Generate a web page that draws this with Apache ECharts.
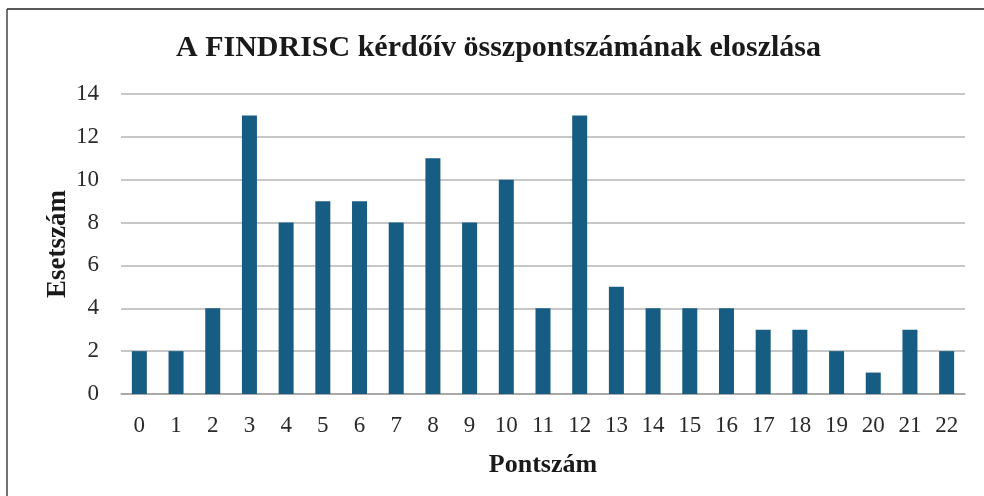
<!DOCTYPE html>
<html>
<head>
<meta charset="utf-8">
<script src="https://cdn.jsdelivr.net/npm/echarts@6/dist/echarts.min.js"></script>
<style>
  html, body { margin: 0; padding: 0; background: #fff; }
</style>
</head>
<body>
<div id="chart" style="width:984px;height:496px"></div>
<script>
// pontszámok és esetszámok
const categories = ['0','1','2','3','4','5','6','7','8','9','10','11','12','13','14','15','16','17','18','19','20','21','22'];
const counts = [2, 2, 4, 13, 8, 9, 9, 8, 11, 8, 10, 4, 13, 5, 4, 4, 4, 3, 3, 2, 1, 3, 2];
const yTicks = [0, 2, 4, 6, 8, 10, 12, 14];

const serif = '"Liberation Serif", "DejaVu Serif", serif';

let chart = echarts.init(document.getElementById('chart'));
chart.setOption({
  animation: false,
  backgroundColor: '#fff',
  title: {
    text: 'A FINDRISC kérdőív összpontszámának eloszlása',
    left: 176,
    top: 33,
    padding: 0,
    textStyle: { fontFamily: serif, fontSize: 30, fontWeight: 'bold', color: '#1a1a1a' }
  },
  // keret bal és felső éle
  graphic: [
    { type: 'line', shape: { x1: 7, y1: 9, x2: 984, y2: 9 }, style: { stroke: '#222', lineWidth: 1.5 } },
    { type: 'line', shape: { x1: 7, y1: 9, x2: 7, y2: 496 }, style: { stroke: '#444', lineWidth: 1.5 } }
  ],
  grid: { left: 121, right: 19, top: 94, bottom: 102 },
  xAxis: {
    type: 'category',
    data: categories,
    name: 'Pontszám',
    nameLocation: 'middle',
    nameGap: 58,
    nameMoveOverlap: false,
    nameTextStyle: { fontFamily: serif, fontSize: 26, fontWeight: 'bold', color: '#1a1a1a' },
    axisLine: { lineStyle: { color: '#a0a0a0', width: 1.5 } },
    axisTick: { show: false },
    axisLabel: { fontFamily: serif, fontSize: 23, color: '#2a2a2a', margin: 20 }
  },
  yAxis: {
    type: 'value',
    min: 0,
    max: 14,
    interval: 2,
    name: 'Esetszám',
    nameLocation: 'middle',
    nameGap: 49,
    nameMoveOverlap: false,
    nameTextStyle: { fontFamily: serif, fontSize: 27, fontWeight: 'bold', color: '#1a1a1a' },
    axisLine: { show: false },
    axisTick: { show: false },
    axisLabel: {
      fontFamily: serif, fontSize: 23, color: '#2a2a2a', margin: 22,
      formatter: v => yTicks.includes(v) ? String(v) : ''
    },
    splitLine: { lineStyle: { color: '#b4b4b4', width: 1.5 } }
  },
  series: [{
    type: 'bar',
    data: counts,
    barWidth: 15,
    itemStyle: { color: '#175c82' }
  }]
});
</script>
</body>
</html>
